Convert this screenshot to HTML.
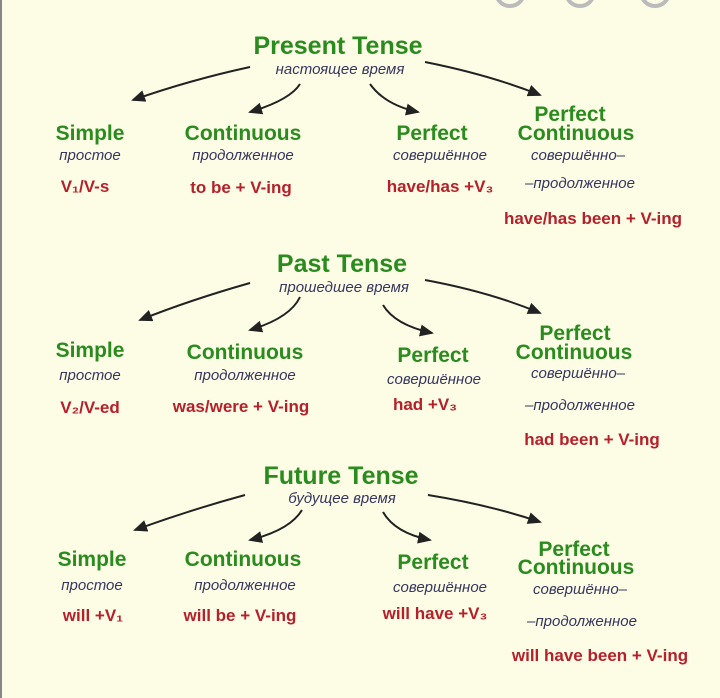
<!DOCTYPE html>
<html><head><meta charset="utf-8"><style>
html,body{margin:0;padding:0;background:#fdfde6;}
svg{display:block}
.t{font-family:"Liberation Sans",sans-serif;font-size:25px;font-weight:bold;fill:#2a8b1e;text-anchor:middle;}
.g{font-family:"Liberation Sans",sans-serif;font-size:21px;font-weight:bold;fill:#2a8b1e;text-anchor:middle;}
.r{font-family:"Liberation Sans",sans-serif;font-size:15px;fill:#363660;font-style:italic;text-anchor:middle;}
.d{font-family:"Liberation Sans",sans-serif;font-size:17px;font-weight:bold;fill:#b5202b;text-anchor:middle;}
.a{fill:none;stroke:#222;stroke-width:2;marker-end:url(#m)}
</style></head><body>
<svg width="720" height="698" viewBox="0 0 720 698">
<defs><marker id="m" markerWidth="14" markerHeight="12" refX="12" refY="6" orient="auto" markerUnits="userSpaceOnUse"><path d="M0,0 L14,6 L0,12 Z" fill="#222"/></marker></defs>
<rect x="0" y="0" width="720" height="698" fill="#fdfde6"/>
<rect x="0" y="0" width="2" height="698" fill="#888"/>
<circle cx="510" cy="-8" r="14" fill="none" stroke="#bbb" stroke-width="4"/>
<circle cx="580" cy="-8" r="14" fill="none" stroke="#bbb" stroke-width="4"/>
<circle cx="655" cy="-8" r="14" fill="none" stroke="#bbb" stroke-width="4"/>

<!-- Present -->
<text class="t" x="338" y="54">Present Tense</text>
<text class="r" x="340" y="74">настоящее время</text>
<path class="a" d="M250,67 Q190,80 133,100"/>
<path class="a" d="M300,84 Q290,100 250,112"/>
<path class="a" d="M370,84 Q385,105 418,112"/>
<path class="a" d="M425,62 Q490,75 540,95"/>
<text class="g" x="90" y="140">Simple</text>
<text class="g" x="243" y="140">Continuous</text>
<text class="g" x="432" y="140">Perfect</text>
<text class="g" x="570" y="121">Perfect</text>
<text class="g" x="576" y="140">Continuous</text>
<text class="r" x="90" y="160">простое</text>
<text class="r" x="243" y="160">продолженное</text>
<text class="r" x="440" y="160">совершённое</text>
<text class="r" x="578" y="160">совершённо–</text>
<text class="d" x="85" y="192">V₁/V-s</text>
<text class="d" x="241" y="193">to be + V-ing</text>
<text class="d" x="440" y="192">have/has +V₃</text>
<text class="r" x="580" y="188">–продолженное</text>
<text class="d" x="593" y="224">have/has been + V-ing</text>

<!-- Past -->
<text class="t" x="342" y="272">Past Tense</text>
<text class="r" x="344" y="292">прошедшее время</text>
<path class="a" d="M250,283 Q190,300 140,320"/>
<path class="a" d="M300,297 Q290,318 250,330"/>
<path class="a" d="M383,305 Q395,325 432,333"/>
<path class="a" d="M425,280 Q490,292 540,313"/>
<text class="g" x="90" y="357">Simple</text>
<text class="g" x="245" y="359">Continuous</text>
<text class="g" x="433" y="362">Perfect</text>
<text class="g" x="575" y="340">Perfect</text>
<text class="g" x="574" y="359">Continuous</text>
<text class="r" x="90" y="380">простое</text>
<text class="r" x="245" y="380">продолженное</text>
<text class="r" x="434" y="384">совершённое</text>
<text class="r" x="578" y="378">совершённо–</text>
<text class="d" x="90" y="413">V₂/V-ed</text>
<text class="d" x="241" y="412">was/were + V-ing</text>
<text class="d" x="425" y="410">had +V₃</text>
<text class="r" x="580" y="410">–продолженное</text>
<text class="d" x="592" y="445">had been + V-ing</text>

<!-- Future -->
<text class="t" x="341" y="484">Future Tense</text>
<text class="r" x="342" y="503">будущее время</text>
<path class="a" d="M245,495 Q190,510 135,530"/>
<path class="a" d="M302,510 Q290,530 250,540"/>
<path class="a" d="M383,512 Q395,533 430,540"/>
<path class="a" d="M428,495 Q490,505 540,522"/>
<text class="g" x="92" y="566">Simple</text>
<text class="g" x="243" y="566">Continuous</text>
<text class="g" x="433" y="569">Perfect</text>
<text class="g" x="574" y="556">Perfect</text>
<text class="g" x="576" y="574">Continuous</text>
<text class="r" x="92" y="590">простое</text>
<text class="r" x="245" y="590">продолженное</text>
<text class="r" x="440" y="592">совершённое</text>
<text class="r" x="580" y="594">совершённо–</text>
<text class="d" x="93" y="621">will +V₁</text>
<text class="d" x="240" y="621">will be + V-ing</text>
<text class="d" x="435" y="619">will have +V₃</text>
<text class="r" x="582" y="626">–продолженное</text>
<text class="d" x="600" y="661">will have been + V-ing</text>
</svg>
</body></html>
